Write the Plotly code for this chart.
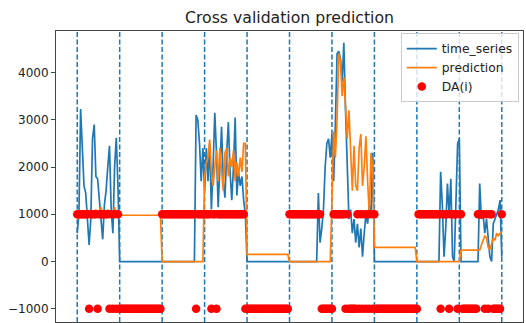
import plotly.graph_objects as go

# Observed series, one block of 25 samples per fold (last fold has 26)
time_series = (
    [600, 1000, 3230, 2300, 1600, 1450, 900, 350, 900, 2600, 2900, 1800, 1750,
     1300, 900, 470, 1200, 1500, 2000, 2450, 1100, 600, 2000, 2620, 1600]
    + [0, 0, 0, 0, 0, 0, 0, 0, 0, 0, 0, 0, 0, 0, 0, 0, 0, 0, 0, 0, 0, 0, 0, 0, 0]
    + [0, 0, 0, 0, 0, 0, 0, 0, 0, 0, 0, 0, 0, 0, 0, 0, 0, 0, 0, 0,
       3100, 3000, 2500, 1700, 2400]
    + [1500, 2400, 1700, 2500, 1100, 2000, 3150, 2300, 1150, 2000, 2850, 1700,
       1350, 2300, 2950, 1900, 1300, 2000, 3050, 1400, 1900, 1600, 1800, 1300, 1000]
    + [0, 0, 0, 0, 0, 0, 0, 0, 0, 0, 0, 0, 0, 0, 0, 0, 0, 0, 0, 0, 0, 0, 0, 0, 0]
    + [0, 0, 0, 0, 0, 0, 0, 0, 0, 0, 0, 0, 0, 0, 0, 0, 0,
       1450, 400, 700, 1100, 2000, 2500, 2600, 2200]
    + [2700, 1700, 2900, 4400, 4450, 4300, 3800, 4630, 3200, 2000, 900, 1100,
       600, 900, 400, 800, 300, 700, 100, 600, 1000, 800, 1200, 1000, 2300]
    + [0, 0, 0, 0, 0, 0, 0, 0, 0, 0, 0, 0, 0, 0, 0, 0, 0, 0, 0, 0, 0, 0, 0, 0, 0]
    + [0, 0, 0, 0, 0, 0, 0, 0, 0, 0, 0, 0, 0, 0,
       1900, 1200, 100, 700, 1650, 1000, 1750, 100, 0, 1400, 2500]
    + [2600, 0, 0, 0, 0, 0, 0, 0, 0, 0, 0, 0,
       1650, 900, 1000, 600, 900, 500, 100, 0, 800, 900, 1000, 1100, 1300, 100]
)

prediction = (
    [880, 1000, 950, 1050, 1000, 980, 1100, 950, 1000, 1050, 1000, 1100, 950,
     1000, 1150, 1000, 1050, 1000, 1100, 980, 1050, 1000, 1150, 1000, 970]
    + [980, 980, 980, 980, 980, 980, 980, 980, 980, 980, 980, 980, 980,
       980, 980, 980, 980, 980, 980, 980, 980, 980, 980, 980, 980]
    + [0, 0, 0, 0, 0, 0, 0, 0, 0, 0, 0, 0, 0, 0, 0, 0, 0, 0, 0, 0, 0, 0, 0, 0, 0]
    + [1800, 2100, 2200, 2580, 1900, 1600, 2000, 2350, 1700, 2400, 1900, 1500,
       2300, 2400, 1800, 2200, 2000, 2350, 1700, 2100, 1800, 2200, 1900, 2500, 2500]
    + [150, 150, 150, 150, 150, 150, 150, 150, 150, 150, 150, 150, 150,
       150, 150, 150, 150, 150, 150, 150, 150, 150, 150, 150, 150]
    + [0, 0, 0, 0, 0, 0, 0, 0, 0, 0, 0, 0, 0, 0, 0, 0, 0, 0, 0, 0, 0, 0, 0, 0, 0]
    + [1300, 2750, 2200, 3000, 4400, 4250, 3500, 3900, 3300, 2600, 3200, 2200,
       1500, 2450, 1600, 1500, 2400, 2700, 1600, 2000, 2650, 1700, 1000, 2300, 2000]
    + [300, 300, 300, 300, 300, 300, 300, 300, 300, 300, 300, 300, 300,
       300, 300, 300, 300, 300, 300, 300, 300, 300, 300, 300, 300]
    + [0, 0, 0, 0, 0, 0, 0, 0, 0, 0, 0, 0, 0, 0, 0, 0, 0, 0, 0, 0, 0, 0, 0, 0, 0]
    + [0, 240, 240, 240, 240, 240, 240, 240, 240, 240, 240, 240,
       240, 350, 450, 540, 500, 300, 250, 400, 500, 450, 600, 550, 600, 640]
)

# Direction accuracy per sample: hit = +1000, miss = -1000
H, L = 1000, -1000
da = (
    [H, H, H, H, H, H, H, L, H, H, H, H, L, H, H, H, H, H, H, L, H, L, H, L, H]
    + [L, L, L, L, L, L, L, L, L, L, L, L, L, L, L, L, L, L, L, L, L, L, L, L, L]
    + [H, H, H, H, H, H, H, H, H, H, H, H, H, H, H, H, H, H, H, H, L, H, H, H, H]
    + [H, H, H, H, L, H, H, L, H, H, H, H, H, H, H, H, H, H, H, H, H, H, H, H, L]
    + [L, L, L, L, L, L, L, L, L, L, L, L, L, L, L, L, L, L, L, L, L, L, L, L, L]
    + [H, H, H, H, H, H, H, H, H, H, H, H, H, H, H, H, H, H, H, L, L, L, L, L, L]
    + [L, H, H, H, H, H, H, H, L, H, L, L, L, L, L, H, L, H, L, H, L, H, L, H, L]
    + [H, L, L, L, L, L, L, L, L, L, L, L, L, L, L, L, L, L, L, L, L, L, L, L, L]
    + [L, H, H, H, H, H, H, H, H, H, H, H, H, H, L, H, H, H, H, L, H, H, H, H, L]
    + [H, H, L, L, L, L, L, L, L, L, L, H, H, H, H, L, H, L, H, H, L, L, L, L, L, H]
)

fold_edges = [0, 25, 50, 75, 100, 125, 150, 175, 200, 225, 250]
y_ticks = [-1000, 0, 1000, 2000, 3000, 4000]

x = list(range(len(time_series)))

BLUE = "#1f77b4"
ORANGE = "#ff7f0e"

fig = go.Figure()
fig.add_trace(go.Scatter(x=x, y=time_series, mode="lines", name="time_series",
                         line=dict(color=BLUE, width=1.7)))
fig.add_trace(go.Scatter(x=x, y=prediction, mode="lines", name="prediction",
                         line=dict(color=ORANGE, width=1.7)))
fig.add_trace(go.Scatter(x=x, y=da, mode="markers", name="DA(i)",
                         marker=dict(color="red", size=8.5, line=dict(width=0))))

# Fold boundaries as dashed verticals behind the data
for e in fold_edges:
    fig.add_shape(type="line", x0=e, x1=e, xref="x", y0=0, y1=1, yref="paper",
                  layer="below",
                  line=dict(color=BLUE, width=1.5, dash="5px,2.5px"))

pad_x = 0.05 * (fold_edges[-1] - fold_edges[0])
fig.update_layout(
    width=526, height=323,
    margin=dict(l=56, r=3, t=31, b=1),
    plot_bgcolor="white", paper_bgcolor="white",
    font=dict(family="DejaVu Sans", color="#222", size=12),
    title=dict(text="Cross validation prediction", x=0.5, xref="paper",
               y=1 - 18 / 323, yref="container", yanchor="middle",
               xanchor="center", font=dict(size=15.7, color="#222")),
    showlegend=True,
    legend=dict(x=0.991, y=0.993, xanchor="right", yanchor="top",
                bgcolor="rgba(255,255,255,0.8)", bordercolor="#cccccc",
                borderwidth=1, font=dict(size=12.3), itemwidth=30,
                tracegroupgap=0),
    xaxis=dict(range=[fold_edges[0] - pad_x, fold_edges[-1] + pad_x],
               showticklabels=False, ticks="", showgrid=False, zeroline=False,
               showline=True, mirror=True, linecolor="#444", linewidth=1),
    yaxis=dict(range=[-1280, 4880], tickvals=y_ticks, ticks="outside",
               ticklen=4, tickcolor="#444", showgrid=False, zeroline=False,
               showline=True, mirror=True, linecolor="#444", linewidth=1,
               tickfont=dict(size=12)),
)

fig.write_html("out.html")
